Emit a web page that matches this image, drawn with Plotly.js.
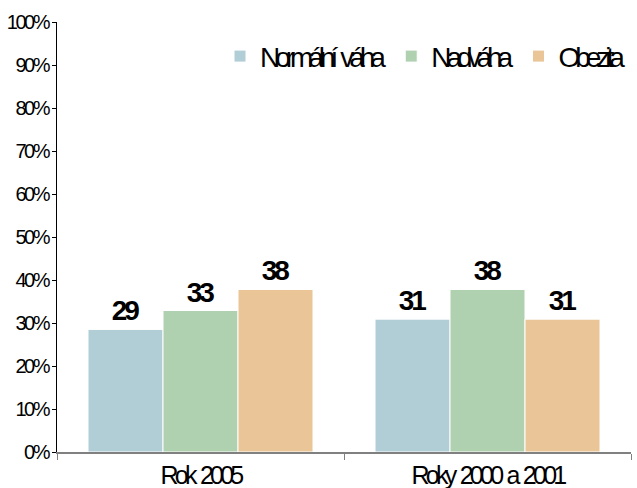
<!DOCTYPE html>
<html>
<head>
<meta charset="utf-8">
<script src="https://cdn.plot.ly/plotly-3.0.1.min.js"></script>
<style>
html,body{margin:0;padding:0;background:#fff;}
#chart{width:637px;height:488px;}
text{letter-spacing:-0.13em;}
text.legendtext{letter-spacing:-0.18em; word-spacing:0.15em;}
g.xtick text{letter-spacing:-0.15em; word-spacing:0.12em;}
g.ytick text{letter-spacing:-0.125em;}
text.bartext{letter-spacing:-0.11em;}
</style>
</head>
<body>
<div id="chart"></div>
<script>
const categories = ["Rok 2005", "Roky 2000 a 2001"];
const seriesNames = ["Normální váha", "Nadváha", "Obezita"];
const normalni = [28.5, 30.9];
const nadvaha = [32.9, 37.8];
const obezita = [37.8, 30.9];
const colors = ["#B1CED7", "#AFD1B0", "#EAC597"];
const yTickVals = [0,10,20,30,40,50,60,70,80,90,100];
const yTickText = ["0%","10%","20%","30%","40%","50%","60%","70%","80%","90%","100%"];

const FONT = "'Liberation Sans', Arial, sans-serif";
const values = [normalni, nadvaha, obezita];
const data = values.map((v, i) => ({
  type: 'bar',
  name: seriesNames[i],
  x: categories,
  y: v,
  marker: {color: colors[i], line: {color: '#ffffff', width: 1}},
  text: v.map(d => Math.round(d).toString()),
  textposition: 'outside',
  cliponaxis: false,
  textfont: {family: FONT, size: 28, color: '#000000', weight: 'bold'},
  hoverinfo: 'skip'
}));

const layout = {
  width: 637, height: 488,
  margin: {l: 57, r: 6, t: 22, b: 36, autoexpand: false},
  paper_bgcolor: '#ffffff', plot_bgcolor: '#ffffff',
  barmode: 'group',
  bargap: 0.216,
  bargroupgap: 0,
  font: {family: FONT, size: 20, color: '#000000'},
  showlegend: true,
  legend: {orientation: 'h', x: 1.0, xanchor: 'right', y: 0.92, yanchor: 'middle',
           font: {family: FONT, size: 28, color: '#000'}, itemwidth: 30, traceorder: 'normal',
           bgcolor: 'rgba(0,0,0,0)'},
  xaxis: {
    type: 'category',
    tickson: 'boundaries',
    ticks: 'outside', ticklen: 6, tickcolor: '#808080', tickwidth: 1,
    showline: true, linecolor: '#808080', linewidth: 2,
    showgrid: false, zeroline: false,
    tickfont: {family: FONT, size: 25, color: '#000'}
  },
  yaxis: {
    range: [0, 100], autorange: false,
    tickvals: yTickVals, ticktext: yTickText,
    ticks: 'outside', ticklen: 4, tickcolor: '#000',
    showline: true, linecolor: '#000', linewidth: 1,
    showgrid: false, zeroline: false,
    tickfont: {family: FONT, size: 20, color: '#000'}
  }
};

Plotly.newPlot('chart', data, layout, {displayModeBar: false, staticPlot: true});
</script>
</body>
</html>
